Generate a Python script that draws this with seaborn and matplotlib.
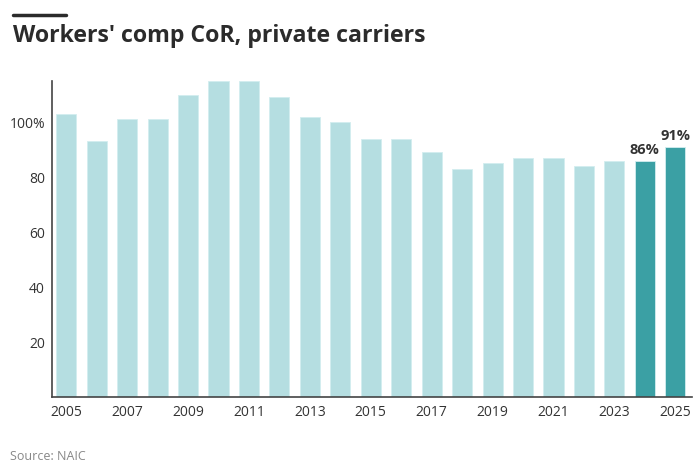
import matplotlib
matplotlib.use("Agg")
import matplotlib.pyplot as plt
import seaborn as sns
import pandas as pd

years = list(range(2005, 2026))
values = [103, 93, 101, 101, 110, 115, 115, 109, 102, 100, 94, 94, 89, 83, 85, 87, 87, 84, 86, 86, 91]
highlight = [False] * 19 + [True, True]
labels = {2024: "86%", 2025: "91%"}

sns.set_theme(style="white")
plt.rcParams['font.family'] = ['Open Sans', 'DejaVu Sans']

df = pd.DataFrame({"year": [str(y) for y in years], "value": values,
                   "hl": ["hi" if h else "lo" for h in highlight]})

fig = plt.figure(figsize=(7, 4.73), dpi=100)
ax = fig.add_axes([52/700, 1-397/473, (692-52)/700, (397-81)/473])
sns.barplot(data=df, x="year", y="value", hue="hl", dodge=False, saturation=1,
            palette={"lo": "#b5dee1", "hi": "#3ba0a4"}, width=0.66,
            edgecolor="#d3edef", linewidth=0.6, legend=False, ax=ax)

ax.set_ylim(0, 115)
ax.set_xlim(-0.47, 20.55)
ax.set_yticks([20, 40, 60, 80, 100])
ax.set_yticklabels(["20", "40", "60", "80", "100%"])
ax.set_xticks(range(0, 21, 2))
ax.set_xticklabels([str(y) for y in years[::2]])
ax.tick_params(axis="both", length=0, labelsize=10, colors="#333333", pad=6)
ax.tick_params(axis="y", pad=5)
ax.set_xlabel("")
ax.set_ylabel("")
for s in ["top", "right"]:
    ax.spines[s].set_visible(False)
for s in ["left", "bottom"]:
    ax.spines[s].set_color("#444444")
    ax.spines[s].set_linewidth(1.2)

for i, y in enumerate(years):
    if y in labels:
        ax.text(i, values[i] + 1.5, labels[y], ha="center", va="bottom",
                fontsize=10.5, fontweight="bold", color="#333333")

fig.text(13/700, 1-42/473, "Workers' comp CoR, private carriers", fontsize=16.7,
         fontweight="bold", color="#2b2b2b", va="baseline", ha="left")
fig.add_artist(plt.Line2D([13/700, 66/700], [1-15/473, 1-15/473], color="#2b2b2b", linewidth=2.5))
fig.text(10/700, 1-456/473, "Source: NAIC", fontsize=9, color="#888888", va="center", ha="left")

fig.savefig("out.png", dpi=100)
